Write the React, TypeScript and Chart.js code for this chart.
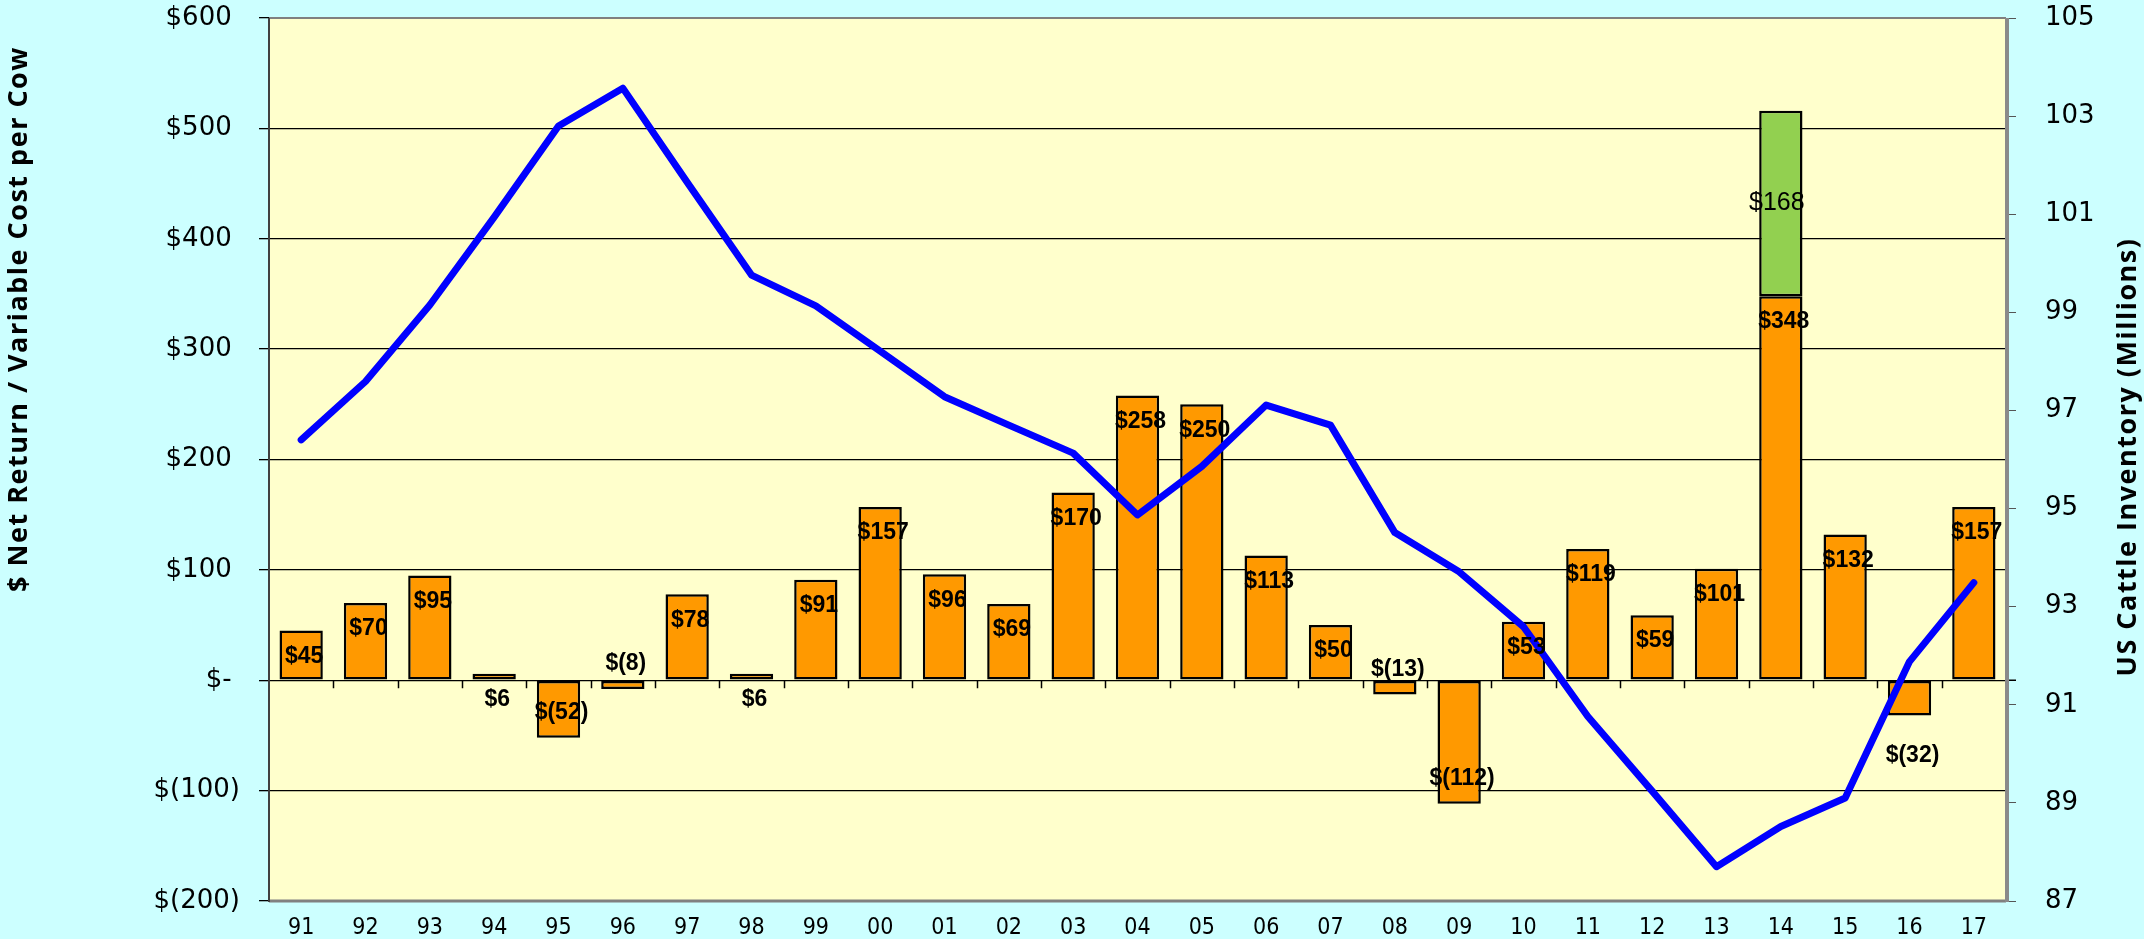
import React, { useEffect, useRef } from "react";
import { Chart, registerables } from "chart.js";

Chart.register(...registerables);

const years = ["91","92","93","94","95","96","97","98","99","00","01","02","03","04","05","06","07","08","09","10","11","12","13","14","15","16","17"];
const netReturn = [45,70,95,6,-52,-8,78,6,91,157,96,69,170,258,250,113,50,-13,-112,53,119,59,101,348,132,-32,157];
const extraReturn = [null,null,null,null,null,null,null,null,null,null,null,null,null,null,null,null,null,null,null,null,null,null,null,168,null,null,null];
const inventory = [96.4,97.59,99.15,100.94,102.8,103.57,101.65,99.76,99.13,98.21,97.28,96.7,96.13,94.87,95.86,97.11,96.7,94.51,93.71,92.59,90.76,89.24,87.7,88.52,89.1,91.88,93.49];
const leftRange = { min: -200, max: 600, step: 100 };
const rightRange = { min: 87, max: 105, step: 2 };
const leftTitle = "$ Net Return / Variable Cost per Cow";
const rightTitle = "US Cattle Inventory (Millions)";
const labelsOutside = ["16"];

const W = 2144;
const H = 939;

const money = (v: number) => (v < 0 ? `$(${-v})` : `$${v}`);

const bgPlugin = {
  id: "plotBg",
  beforeDraw(chart: any) {
    const { ctx, chartArea: a } = chart;
    ctx.save();
    ctx.fillStyle = "#FFFFCC";
    ctx.fillRect(a.left, a.top, a.right - a.left, a.bottom - a.top);
    ctx.restore();
  },
};

const labelPlugin = {
  id: "barLabels",
  afterDatasetsDraw(chart: any) {
    const { ctx } = chart;
    ctx.save();
    ctx.textAlign = "center";
    ctx.textBaseline = "middle";
    ctx.fillStyle = "#000";
    const m0 = chart.getDatasetMeta(0);
    m0.data.forEach((el: any, i: number) => {
      const v = netReturn[i];
      if (v == null) return;
      ctx.font = "bold 23px 'Liberation Sans', Arial, sans-serif";
      const end = el.y;
      let y: number;
      if (labelsOutside.includes(years[i])) {
        y = v < 0 ? end + 40 : end - 40;
      } else {
        y = v < 0 ? end - 25 : end + 26;
      }
      ctx.fillText(money(v), el.x + 3, y);
    });
    const m1 = chart.getDatasetMeta(1);
    m1.data.forEach((el: any, i: number) => {
      const v = extraReturn[i];
      if (v == null) return;
      ctx.font = "25px 'Liberation Sans', Arial, sans-serif";
      ctx.fillText(money(v), el.x - 4, (el.y + el.base) / 2);
    });
    ctx.restore();
  },
};

const framePlugin = {
  id: "frame",
  afterDraw(chart: any) {
    const { ctx, chartArea: a } = chart;
    const y0 = chart.scales.y.getPixelForValue(0);
    ctx.save();
    ctx.strokeStyle = "#000";
    ctx.lineWidth = 1.5;
    const n = years.length;
    const step = (a.right - a.left) / n;
    for (let k = 1; k < n; k++) {
      const x = Math.round(a.left + k * step) + 0.5;
      ctx.beginPath();
      ctx.moveTo(x, y0);
      ctx.lineTo(x, y0 + 8);
      ctx.stroke();
    }
    ctx.beginPath();
    ctx.moveTo(a.right, y0);
    ctx.lineTo(a.right + 10, y0);
    ctx.stroke();
    ctx.strokeStyle = "#808080";
    ctx.lineWidth = 2;
    ctx.beginPath();
    ctx.moveTo(a.left, a.top);
    ctx.lineTo(a.right, a.top);
    ctx.stroke();
    ctx.lineWidth = 3;
    ctx.beginPath();
    ctx.moveTo(a.left, a.bottom);
    ctx.lineTo(a.right, a.bottom);
    ctx.stroke();
    ctx.strokeStyle = "#8a8a8a";
    ctx.lineWidth = 4;
    ctx.beginPath();
    ctx.moveTo(a.right + 1, a.top);
    ctx.lineTo(a.right + 1, a.bottom + 1);
    ctx.stroke();
    ctx.strokeStyle = "#404040";
    ctx.lineWidth = 2;
    ctx.beginPath();
    ctx.moveTo(a.left, a.top);
    ctx.lineTo(a.left, a.bottom + 1);
    ctx.stroke();
    ctx.fillStyle = "#000";
    ctx.font = "bold 27px 'Open Sans', sans-serif";
    (ctx as any).letterSpacing = "1.5px";
    ctx.textAlign = "center";
    ctx.textBaseline = "middle";
    ctx.save();
    ctx.translate(19, 319);
    ctx.rotate(-Math.PI / 2);
    ctx.fillText(leftTitle, 0, 0);
    ctx.restore();
    ctx.save();
    ctx.translate(2128, 457);
    ctx.rotate(-Math.PI / 2);
    ctx.fillText(rightTitle, 0, 0);
    ctx.restore();
    (ctx as any).letterSpacing = "0px";
    ctx.restore();
  },
};

export default function App() {
  const ref = useRef<HTMLCanvasElement | null>(null);
  useEffect(() => {
    if (!ref.current) return;
    const chart = new Chart(ref.current, {
      type: "bar",
      data: {
        labels: years,
        datasets: [
          {
            type: "bar",
            label: "Net Return",
            data: netReturn,
            backgroundColor: "#FF9900",
            borderColor: "#000",
            borderWidth: 2.5,
            borderSkipped: false,
            stack: "s",
            yAxisID: "y",
            order: 1,
            categoryPercentage: 1,
            barPercentage: 0.673,
          } as any,
          {
            type: "bar",
            label: "Extra",
            data: extraReturn,
            backgroundColor: "#92D050",
            borderColor: "#000",
            borderWidth: 2.5,
            borderSkipped: false,
            stack: "s",
            yAxisID: "y",
            order: 1,
            categoryPercentage: 1,
            barPercentage: 0.673,
          } as any,
          {
            type: "line",
            label: "Inventory",
            data: inventory,
            borderColor: "#0000FF",
            borderWidth: 7,
            pointRadius: 0,
            tension: 0,
            borderCapStyle: "round",
            borderJoinStyle: "round",
            yAxisID: "y1",
            order: 0,
          } as any,
        ],
      },
      options: {
        animation: false,
        responsive: false,
        devicePixelRatio: 1,
        layout: { padding: { top: 18, left: 0, right: 0, bottom: 0 } },
        plugins: { legend: { display: false }, tooltip: { enabled: false } },
        scales: {
          x: {
            grid: { display: false, drawTicks: false },
            border: { display: false },
            ticks: {
              color: "#000",
              font: { family: "'DejaVu Sans Condensed', 'DejaVu Sans', sans-serif", size: 23 },
              padding: 13,
              maxRotation: 0,
              autoSkip: false,
            },
            afterFit: (s: any) => { s.height = 38; s.paddingLeft = 0; s.paddingRight = 0; },
          },
          y: {
            position: "left",
            stacked: true,
            min: leftRange.min,
            max: leftRange.max,
            grid: { color: "#000", lineWidth: 1.3, tickLength: 10, drawTicks: true },
            border: { display: false },
            ticks: {
              stepSize: leftRange.step,
              color: "#000",
              font: { family: "'DejaVu Sans', sans-serif", size: 26 },
              padding: 19,
              callback: (v: any) => (v === 0 ? "$- " : v < 0 ? `$(${-v})` : `$${v} `),
            },
            afterFit: (s: any) => { s.width = 269; s.paddingTop = 0; s.paddingBottom = 0; },
          },
          y1: {
            position: "right",
            min: rightRange.min,
            max: rightRange.max,
            grid: { drawOnChartArea: false, color: "#555", tickLength: 10, drawTicks: true },
            border: { display: false },
            ticks: {
              stepSize: rightRange.step,
              color: "#000",
              font: { family: "'DejaVu Sans', sans-serif", size: 26 },
              padding: 29,
            },
            afterFit: (s: any) => { s.width = 138; s.paddingTop = 0; s.paddingBottom = 0; },
          },
        },
      },
      plugins: [bgPlugin, labelPlugin, framePlugin],
    });
    return () => chart.destroy();
  }, []);
  return (
    <div style={{ position: "fixed", left: 0, top: 0, width: W, height: H, background: "#CCFFFF" }}>
      <canvas ref={ref} width={W} height={H} style={{ width: W, height: H, display: "block" }} />
    </div>
  );
}
